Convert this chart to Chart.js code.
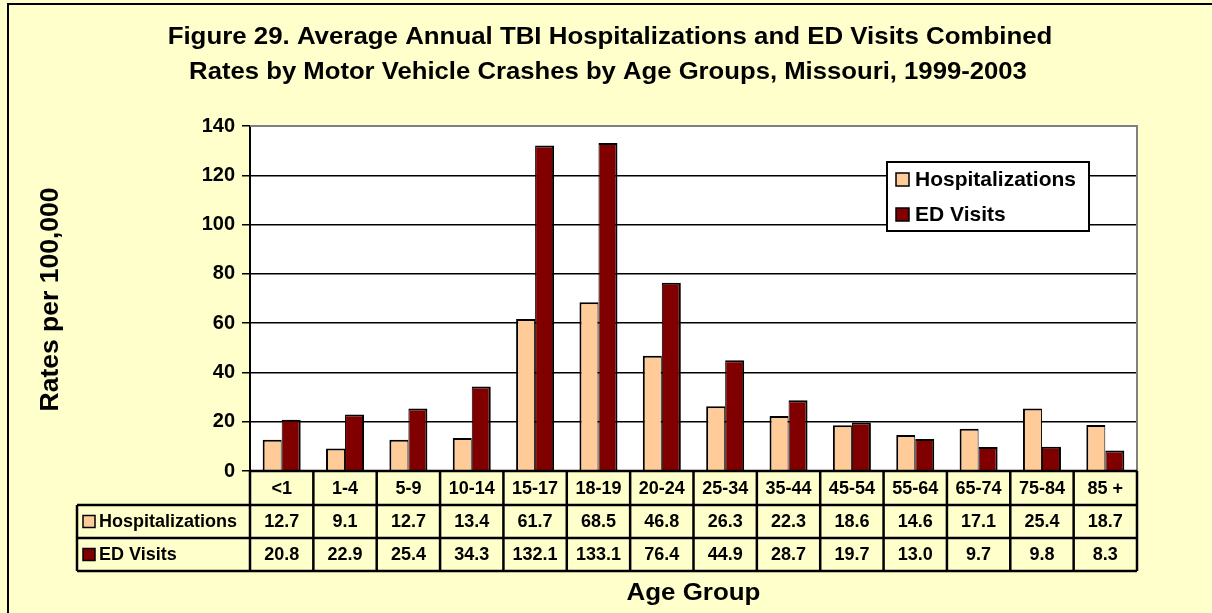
<!DOCTYPE html>
<html>
<head>
<meta charset="utf-8">
<script src="https://cdn.jsdelivr.net/npm/chart.js@4.4.0/dist/chart.umd.min.js"></script>
<style>
  html, body { margin: 0; padding: 0; background: #FFFFCC; }
  canvas { display: block; }
</style>
</head>
<body>
<canvas id="grafico" width="1212" height="613"></canvas>
<script>
// Datos del gráfico
const grupos = ['<1', '1-4', '5-9', '10-14', '15-17', '18-19', '20-24', '25-34', '35-44', '45-54', '55-64', '65-74', '75-84', '85 +'];
const hospitalizaciones = [12.7, 9.1, 12.7, 13.4, 61.7, 68.5, 46.8, 26.3, 22.3, 18.6, 14.6, 17.1, 25.4, 18.7];
const visitasED = [20.8, 22.9, 25.4, 34.3, 132.1, 133.1, 76.4, 44.9, 28.7, 19.7, 13.0, 9.7, 9.8, 8.3];
const nombresSeries = ['Hospitalizations', 'ED Visits'];
const titulo = ['Figure 29. Average Annual TBI Hospitalizations and ED Visits Combined',
                'Rates by Motor Vehicle Crashes by Age Groups, Missouri, 1999-2003'];
const tituloY = 'Rates per 100,000';
const tituloX = 'Age Group';

const colores = ['#FFCC99', '#800000'];
const fuente = '"Liberation Sans", Arial, sans-serif';

// Texto ensanchado horizontalmente (la fuente del original es más ancha)
function textoAncho(ctx, texto, x, y, sx) {
    ctx.save();
    ctx.translate(x, y);
    ctx.scale(sx, 1);
    ctx.fillText(texto, 0, 0);
    ctx.restore();
}

// Plugin: fondo, titulos, leyenda y tabla de datos
const decoracion = {
    id: 'decoracion',
    beforeDraw(chart) {
        const ctx = chart.ctx;
        const a = chart.chartArea;
        ctx.save();
        ctx.fillStyle = '#FFFFCC';
        ctx.fillRect(0, 0, chart.width, chart.height);
        // marco exterior
        ctx.strokeStyle = '#000';
        ctx.lineWidth = 2;
        ctx.strokeRect(8, 4, chart.width + 20, chart.height + 20);
        // fondo del area de trazado
        ctx.fillStyle = '#FFFFFF';
        ctx.fillRect(a.left, a.top, a.right - a.left, a.bottom - a.top);
        ctx.restore();
    },
    afterDraw(chart) {
        const ctx = chart.ctx;
        const a = chart.chartArea;
        const xs = chart.scales.x;
        ctx.save();

        // borde gris del area de trazado (arriba y derecha)
        ctx.strokeStyle = '#808080';
        ctx.lineWidth = 2;
        ctx.beginPath();
        ctx.moveTo(a.left, a.top);
        ctx.lineTo(a.right, a.top);
        ctx.lineTo(a.right, a.bottom);
        ctx.stroke();

        // titulo
        ctx.fillStyle = '#000';
        ctx.textAlign = 'center';
        ctx.textBaseline = 'alphabetic';
        ctx.font = 'bold 24px ' + fuente;
        textoAncho(ctx, titulo[0], 610, 44, 1.077);
        textoAncho(ctx, titulo[1], 608, 79, 1.07);

        // titulo eje Y
        ctx.save();
        ctx.translate(58, (a.top + a.bottom) / 2 + 1);
        ctx.rotate(-Math.PI / 2);
        ctx.font = 'bold 25px ' + fuente;
        textoAncho(ctx, tituloY, 0, 0, 1.06);
        ctx.restore();

        // titulo eje X
        ctx.font = 'bold 24px ' + fuente;
        textoAncho(ctx, tituloX, (a.left + a.right) / 2, 600, 1.08);

        // leyenda dentro del area
        const lx = 887, ly = 162, lw = 202, lh = 69;
        ctx.fillStyle = '#FFFFFF';
        ctx.fillRect(lx, ly, lw, lh);
        ctx.strokeStyle = '#000';
        ctx.lineWidth = 2;
        ctx.strokeRect(lx, ly, lw, lh);
        ctx.font = 'bold 21px ' + fuente;
        ctx.textAlign = 'left';
        ctx.textBaseline = 'middle';
        nombresSeries.forEach((n, i) => {
            const cy = ly + 17 + i * 35;
            ctx.fillStyle = colores[i];
            ctx.fillRect(lx + 9, cy - 6, 13, 13);
            ctx.lineWidth = 1.5;
            ctx.strokeRect(lx + 9, cy - 6, 13, 13);
            ctx.fillStyle = '#000';
            ctx.fillText(n, lx + 28, cy + 1);
        });

        // tabla de datos
        const filas = [a.bottom, 505, 538, 571];
        const izq = 77;
        const anchoCat = (a.right - a.left) / grupos.length;
        ctx.strokeStyle = '#000';
        ctx.lineWidth = 2.5;
        ctx.beginPath();
        // horizontales
        ctx.moveTo(a.left, filas[0]); ctx.lineTo(a.right, filas[0]);
        for (let r = 1; r < filas.length; r++) {
            ctx.moveTo(izq, filas[r]); ctx.lineTo(a.right, filas[r]);
        }
        // verticales
        ctx.moveTo(izq, filas[1]); ctx.lineTo(izq, filas[3]);
        for (let i = 0; i <= grupos.length; i++) {
            const x = a.left + i * anchoCat;
            ctx.moveTo(x, filas[0]); ctx.lineTo(x, filas[3]);
        }
        ctx.stroke();

        ctx.font = 'bold 18px ' + fuente;
        ctx.textAlign = 'center';
        ctx.textBaseline = 'middle';
        ctx.fillStyle = '#000';
        const series = [hospitalizaciones, visitasED];
        grupos.forEach((g, i) => {
            const cx = xs.getPixelForValue(i);
            ctx.fillText(g, cx, (filas[0] + filas[1]) / 2 + 1);
            series.forEach((s, k) => {
                ctx.fillText(s[i].toFixed(1), cx, (filas[k + 1] + filas[k + 2]) / 2 + 1);
            });
        });

        // leyenda de la tabla
        ctx.textAlign = 'left';
        nombresSeries.forEach((n, k) => {
            const cy = (filas[k + 1] + filas[k + 2]) / 2;
            ctx.fillStyle = colores[k];
            ctx.fillRect(83, cy - 6, 12, 12);
            ctx.lineWidth = 1.5;
            ctx.strokeRect(83, cy - 6, 12, 12);
            ctx.fillStyle = '#000';
            ctx.fillText(n, 99, cy + 1);
        });

        ctx.restore();
    }
};

const ctx = document.getElementById('grafico').getContext('2d');
new Chart(ctx, {
    type: 'bar',
    data: {
        labels: grupos,
        datasets: [
            {
                label: nombresSeries[0],
                data: hospitalizaciones,
                backgroundColor: colores[0],
                borderColor: '#000',
                borderWidth: { top: 2, left: 2, right: 1, bottom: 0 },
                categoryPercentage: 0.6,
                barPercentage: 1.0
            },
            {
                label: nombresSeries[1],
                data: visitasED,
                backgroundColor: colores[1],
                borderColor: '#000',
                borderWidth: { top: 2, left: 1, right: 2, bottom: 0 },
                categoryPercentage: 0.6,
                barPercentage: 1.0
            }
        ]
    },
    options: {
        responsive: false,
        animation: false,
        layout: { padding: { left: 0, top: 126, right: 75, bottom: 0 } },
        plugins: {
            legend: { display: false },
            title: { display: false },
            tooltip: { enabled: false }
        },
        scales: {
            x: {
                grid: { display: false },
                border: { display: false },
                ticks: { display: false },
                afterFit: s => { s.height = 142; }
            },
            y: {
                min: 0,
                max: 140,
                ticks: {
                    stepSize: 20,
                    color: '#000',
                    padding: 7,
                    font: { family: fuente, size: 20, weight: 'bold' }
                },
                grid: { color: '#000', lineWidth: 1.5, tickLength: 8 },
                border: { color: '#000', width: 2 },
                afterFit: s => { s.width = 250; }
            }
        }
    },
    plugins: [decoracion]
});
</script>
</body>
</html>
